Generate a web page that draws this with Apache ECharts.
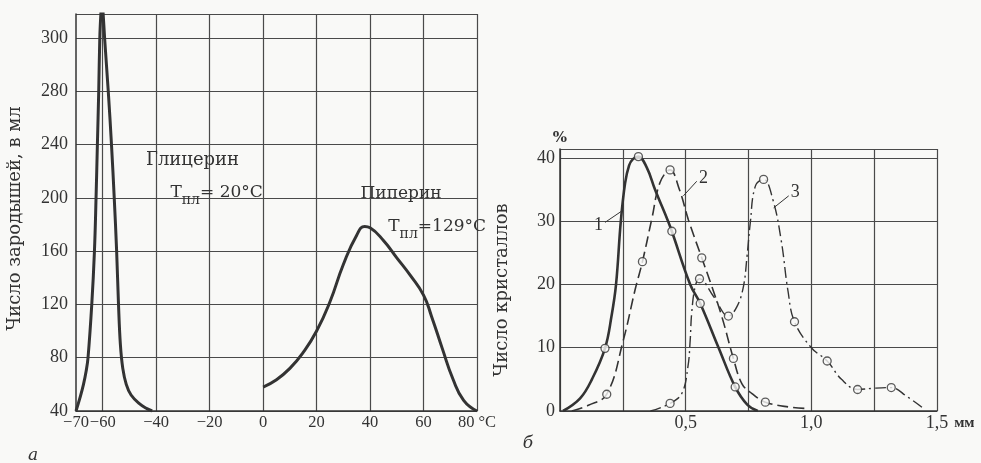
<!DOCTYPE html>
<html>
<head>
<meta charset="utf-8">
<script src="https://cdn.jsdelivr.net/npm/echarts@6/dist/echarts.min.js"></script>
<style>
  html, body { margin: 0; padding: 0; background: #f9f9f7; }
  #chart { width: 981px; height: 463px; }
</style>
</head>
<body>
<div id="chart"></div>
<script>
  // а) число зародышей в зависимости от температуры
  var glycerinT = [-70, -68.5, -67.2, -66.2, -65.5, -64.1, -63.1, -62.5, -62.0, -61.5, -61.1, -60.7, -60.3, -59.9, -59.3, -57.9, -56.7, -55.7, -54.8, -54.1, -53.4, -52.5, -51.2, -49.4, -46.3, -43.5, -41.5];
  var glycerinN = [40, 50, 60, 70, 80, 120, 160, 200, 240, 280, 320, 338, 350, 340, 320, 279, 239, 200, 160, 120, 90, 72, 60, 52, 45.5, 41.8, 40];
  var piperinT = [0, 5, 10, 15, 20, 25, 30, 35, 38, 40, 45, 50, 55, 60, 63, 67, 71, 75, 80];
  var piperinN = [58, 63.5, 72, 84, 100, 122, 150, 172, 178.5, 177.5, 168, 155, 142, 127, 111, 87, 64, 48, 40];
  var xTicksA = [-70, -60, -40, -20, 0, 20, 40, 60, 80];
  var xLabelsA = ['−70', '−60', '−40', '−20', '0', '20', '40', '60', '80 °C'];
  var yTicksA = [40, 80, 120, 160, 200, 240, 280, 320];
  var yLabelsA = ['40', '80', '120', '160', '200', '240', '280', '300'];

  // б) распределение кристаллов по размерам
  var size1 = [0.012, 0.08, 0.127, 0.179, 0.205, 0.223, 0.242, 0.259, 0.275, 0.29, 0.312, 0.345, 0.378, 0.43, 0.445, 0.518, 0.558, 0.631, 0.697, 0.745, 0.787];
  var pct1 = [0, 2, 5, 9.9, 15, 20, 30, 36, 38.8, 39.8, 40.2, 38.5, 35, 30, 28.4, 20, 17, 10, 3.8, 1, 0];
  var mark1Size = [0.179, 0.312, 0.445, 0.558, 0.697];
  var mark1Pct = [9.9, 40.2, 28.4, 17, 3.8];

  var size2 = [0.047, 0.113, 0.186, 0.252, 0.299, 0.328, 0.365, 0.398, 0.438, 0.475, 0.511, 0.564, 0.604, 0.644, 0.69, 0.724, 0.764, 0.817, 0.916, 0.983];
  var pct2 = [0, 0.9, 2.65, 11.2, 19.2, 23.6, 30.3, 36.1, 38.1, 35, 30.2, 24.2, 19.7, 14.9, 8.3, 4.3, 2.76, 1.4, 0.6, 0.4];
  var mark2Size = [0.186, 0.328, 0.438, 0.564, 0.69, 0.817];
  var mark2Pct = [2.65, 23.6, 38.1, 24.2, 8.3, 1.4];

  var size3 = [0.36, 0.438, 0.485, 0.509, 0.518, 0.524, 0.538, 0.555, 0.611, 0.67, 0.704, 0.73, 0.744, 0.757, 0.777, 0.81, 0.847, 0.88, 0.907, 0.933, 1.0, 1.063, 1.12, 1.184, 1.25, 1.318, 1.38, 1.44];
  var pct3 = [0, 1.2, 2.8, 7, 11.2, 15.5, 19.7, 20.9, 18.1, 15, 16.5, 19.7, 24.4, 29.7, 35.5, 36.6, 33.4, 27, 19, 14.1, 10, 7.9, 5, 3.4, 3.6, 3.7, 2.3, 0.6];
  var mark3Size = [0.438, 0.555, 0.67, 0.81, 0.933, 1.063, 1.184, 1.318];
  var mark3Pct = [1.2, 20.9, 15, 36.6, 14.1, 7.9, 3.4, 3.7];

  var xTicksB = [0.5, 1.0, 1.5];
  var xLabelsB = ['0,5', '1,0', '1,5'];
  var yTicksB = [0, 10, 20, 30, 40];
  var yLabelsB = ['0', '10', '20', '30', '40'];

  var ink = '#333333';
  var gridInk = '#4a4a4a';
  var serif = 'Liberation Serif';
  var serifText = 'DejaVu Serif';

  function zip(a, b) {
    var out = [];
    for (var i = 0; i < a.length; i++) out.push([a[i], b[i]]);
    return out;
  }

  function lookup(ticks, labels) {
    return function(v) {
      for (var i = 0; i < ticks.length; i++) {
        if (Math.abs(v - ticks[i]) < 1e-6) return labels[i];
      }
      return '';
    };
  }

  var labelStyle = { color: ink, fontFamily: serif, fontSize: 18, hideOverlap: false, showMinLabel: true, showMaxLabel: true };
  var subRich = {
    a: { fontFamily: serifText, fontSize: 17, color: ink },
    s: { fontFamily: serifText, fontSize: 14, color: ink, padding: [16, 0, 0, 0] }
  };

  function markerSeries(xs, ys, xi) {
    return {
      type: 'scatter',
      xAxisIndex: xi,
      yAxisIndex: xi,
      data: zip(xs, ys),
      symbol: 'circle',
      symbolSize: 8,
      z: 5,
      itemStyle: { color: '#f9f9f7', borderColor: ink, borderWidth: 1.3 }
    };
  }

  function leader(p1, p2, num, pn) {
    return {
      markLine: {
        silent: true,
        symbol: ['none', 'none'],
        lineStyle: { type: 'solid', color: ink, width: 1 },
        label: { show: false },
        data: [[{ coord: p1 }, { coord: p2 }]]
      },
      markPoint: {
        silent: true,
        symbol: 'circle',
        symbolSize: 0,
        label: { show: true, position: 'inside', formatter: num, color: ink, fontFamily: serif, fontSize: 18 },
        data: [{ coord: pn }]
      }
    };
  }

  var lead1 = leader([0.179, 29.8], [0.246, 31.6], '1', [0.153, 29.3]);
  var lead2 = leader([0.544, 36.3], [0.491, 34], '2', [0.571, 36.7]);
  var lead3 = leader([0.91, 34], [0.85, 32.1], '3', [0.936, 34.5]);

  var option = {
    backgroundColor: '#f9f9f7',
    animation: false,
    grid: [
      { left: 76, top: 14, width: 401, height: 397 },
      { left: 560, top: 149, width: 377, height: 262 }
    ],
    xAxis: [{
      type: 'value',
      gridIndex: 0,
      min: -70,
      max: 80,
      interval: 10,
      axisLine: { lineStyle: { color: ink, width: 1.5 } },
      axisTick: { show: false },
      axisLabel: Object.assign({}, labelStyle, { margin: 3, fontSize: 16.5, formatter: lookup(xTicksA, xLabelsA) }),
      splitLine: {
        show: true,
        showMinLine: true,
        showMaxLine: true,
        // линии сетки только через 20 градусов
        lineStyle: { color: ['rgba(0,0,0,0)', gridInk], width: 1.2 }
      }
    }, {
      type: 'value',
      gridIndex: 1,
      min: 0,
      max: 1.5,
      interval: 0.25,
      axisLine: { lineStyle: { color: ink, width: 1.5 } },
      axisTick: { show: false },
      axisLabel: Object.assign({ margin: 3, formatter: lookup(xTicksB, xLabelsB) }, labelStyle),
      splitLine: { show: true, lineStyle: { color: gridInk, width: 1.2 } },
      name: 'мм',
      nameLocation: 'end',
      nameGap: 14,
      nameTextStyle: { color: ink, fontFamily: serif, fontSize: 15, fontWeight: 'bold', verticalAlign: 'top', padding: [5, 0, 0, 0] }
    }],
    yAxis: [{
      type: 'value',
      gridIndex: 0,
      min: 40,
      max: 338,
      interval: 40,
      axisLine: { show: true, onZero: false, lineStyle: { color: ink, width: 1.5 } },
      axisTick: { show: false },
      axisLabel: Object.assign({ margin: 8, formatter: lookup(yTicksA, yLabelsA) }, labelStyle),
      splitLine: { show: true, lineStyle: { color: gridInk, width: 1.2 } },
      name: 'Число зародышей, в мл',
      nameLocation: 'middle',
      nameGap: 52,
      nameRotate: 90,
      nameTextStyle: { color: ink, fontFamily: serifText, fontSize: 18, padding: [0, 12, 0, 0] }
    }, {
      type: 'value',
      gridIndex: 1,
      min: 0,
      max: 41.4,
      interval: 10,
      axisLine: { show: true, onZero: false, lineStyle: { color: ink, width: 1.5 } },
      axisTick: { show: false },
      axisLabel: Object.assign({ margin: 5, formatter: lookup(yTicksB, yLabelsB) }, labelStyle),
      splitLine: { show: true, lineStyle: { color: gridInk, width: 1.2 } },
      name: 'Число кристаллов',
      nameLocation: 'middle',
      nameGap: 49,
      nameRotate: 90,
      nameTextStyle: { color: ink, fontFamily: serifText, fontSize: 18, padding: [0, 20, 0, 0] }
    }],
    series: [{
      name: 'Глицерин',
      type: 'line',
      xAxisIndex: 0,
      yAxisIndex: 0,
      data: zip(glycerinT, glycerinN),
      smooth: 0.4,
      showSymbol: false,
      lineStyle: { color: ink, width: 3 },
      markPoint: {
        silent: true,
        symbol: 'circle',
        symbolSize: 0,
        label: { show: true, position: 'inside', color: ink, fontFamily: serifText, fontSize: 17, rich: subRich },
        data: [
          { coord: [-26.4, 227.8], label: { formatter: 'Глицерин', fontSize: 18 } },
          { coord: [-17.4, 204], label: { formatter: '{a|Т}{s|пл}{a|= 20°C}' } }
        ]
      }
    }, {
      name: 'Пиперин',
      type: 'line',
      xAxisIndex: 0,
      yAxisIndex: 0,
      data: zip(piperinT, piperinN),
      smooth: 0.5,
      showSymbol: false,
      lineStyle: { color: ink, width: 3 },
      markPoint: {
        silent: true,
        symbol: 'circle',
        symbolSize: 0,
        label: { show: true, position: 'inside', color: ink, fontFamily: serifText, fontSize: 17, rich: subRich },
        data: [
          { coord: [51.6, 203], label: { formatter: 'Пиперин' } },
          { coord: [65.1, 178.5], label: { formatter: '{a|Т}{s|пл}{a|=129°C}' } }
        ]
      }
    }, Object.assign({
      name: '1',
      type: 'line',
      xAxisIndex: 1,
      yAxisIndex: 1,
      data: zip(size1, pct1),
      smooth: 0.4,
      showSymbol: false,
      lineStyle: { color: ink, width: 2.6 }
    }, lead1), Object.assign({
      name: '2',
      type: 'line',
      xAxisIndex: 1,
      yAxisIndex: 1,
      data: zip(size2, pct2),
      smooth: 0.4,
      showSymbol: false,
      lineStyle: { color: ink, width: 1.6, type: [11, 5] }
    }, lead2), Object.assign({
      name: '3',
      type: 'line',
      xAxisIndex: 1,
      yAxisIndex: 1,
      data: zip(size3, pct3),
      smooth: 0.4,
      showSymbol: false,
      lineStyle: { color: ink, width: 1.4, type: [11, 4, 2, 4] }
    }, lead3),
      markerSeries(mark1Size, mark1Pct, 1),
      markerSeries(mark2Size, mark2Pct, 1),
      markerSeries(mark3Size, mark3Pct, 1)
    ],
    graphic: [
      { type: 'text', style: { text: '%', x: 560, y: 138, align: 'center', verticalAlign: 'middle', font: 'bold 15px "DejaVu Serif"', fill: ink } },
      { type: 'text', style: { text: 'а', x: 33, y: 456, align: 'center', verticalAlign: 'middle', font: 'italic 17px "DejaVu Serif"', fill: ink } },
      { type: 'text', style: { text: 'б', x: 528, y: 444, align: 'center', verticalAlign: 'middle', font: 'italic 17px "DejaVu Serif"', fill: ink } }
    ]
  };

  var myChart = echarts.init(document.getElementById('chart'));
  myChart.setOption(option, true);
</script>
</body>
</html>
